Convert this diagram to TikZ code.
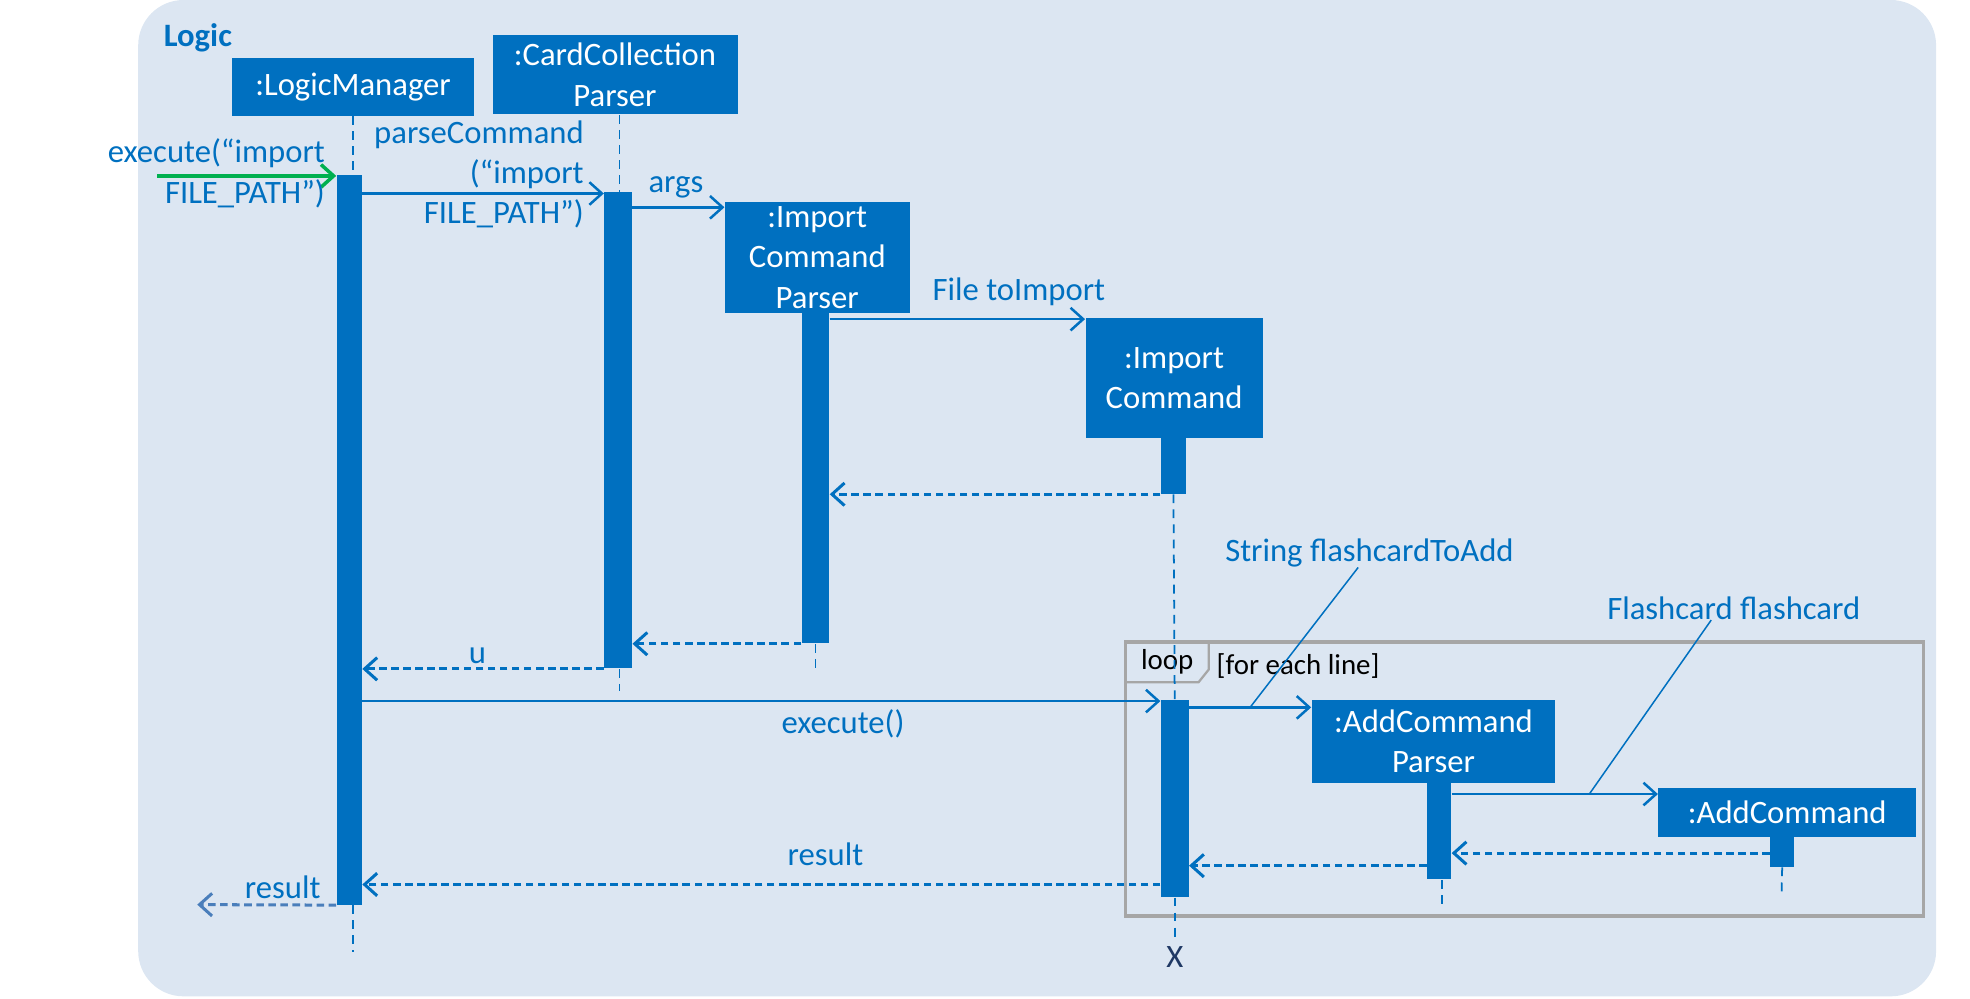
\documentclass[tikz,border=0pt]{standalone}
\usepackage{fontspec}
\setmainfont{Carlito}
\usetikzlibrary{arrows.meta,calc}
\definecolor{bgc}{HTML}{DCE6F2}
\definecolor{ublue}{HTML}{0070C0}
\definecolor{ugreen}{HTML}{00B050}
\definecolor{fgray}{HTML}{A6A6A6}
\definecolor{xnavy}{HTML}{1F3864}
\definecolor{lostc}{HTML}{4A7EBB}
\begin{document}
\begin{tikzpicture}[x=0.5pt,y=-0.5pt,
  font=\fontsize{13}{16}\selectfont,
  hdr/.style={fill=ublue, text=white, inner sep=0pt, align=center},
  actbar/.style={fill=ublue, inner sep=0pt},
  life/.style={draw=ublue, line width=0.7pt, dash pattern=on 3.5pt off 2.5pt},
  msg/.style={draw=ublue, line width=1pt, -{Straight Barb[length=5pt,width=9pt]}},
  ret/.style={msg, line width=1.2pt, dash pattern=on 3pt off 1.8pt},
  lbl/.style={text=ublue, inner sep=0pt},
  leader/.style={draw=ublue, line width=0.6pt}]
\useasboundingbox (0,0) rectangle (1568,794.4);
\fill[bgc, rounded corners=18pt] (110,0) rectangle (1541,793);

% loop frame
\draw[fgray, line width=1.4pt] (896,511) rectangle (1531,729);
\draw[fgray, line width=0.9pt] (896,543) -- (954,543) -- (962,533) -- (962,511);
\node[inner sep=0pt, font=\fontsize{11.5}{14}\selectfont] (looplbl) at (929,527) {loop};
\node[inner sep=0pt, anchor=west, font=\fontsize{11.5}{14}\selectfont] (guard) at (968,530) {[for each line]};

% headers
\node[hdr, minimum width=96pt, minimum height=23pt] (lmH) at (281,69) {:LogicManager};
\node[hdr, minimum width=97.5pt, minimum height=31.5pt] (ccH) at (489.5,59.5) {:CardCollection\\Parser};
\node[hdr, minimum width=73.5pt, minimum height=44pt] (icpH) at (650.5,205) {:Import\\Command\\Parser};
\node[hdr, minimum width=70.5pt, minimum height=48pt] (icH) at (934.5,301) {:Import\\Command};
\node[hdr, minimum width=97pt, minimum height=33pt] (acpH) at (1141,590) {:AddCommand\\Parser};
\node[hdr, minimum width=102.5pt, minimum height=19.5pt] (acH) at (1422.5,646.5) {:AddCommand};

% activation bars (nodes)
\node[actbar, minimum width=10pt, minimum height=290.5pt] (lmA) at (278,429.5) {};
\node[actbar, minimum width=11pt, minimum height=189.5pt] (ccA) at (492,342.5) {};
\node[actbar, minimum width=11pt, minimum height=131.5pt] (icpA) at (649,380.5) {};
\node[actbar, minimum width=10pt, minimum height=22pt] (icA) at (934,371) {};
\node[actbar, minimum width=11pt, minimum height=78.5pt] (icB) at (935,635.5) {};
\node[actbar, minimum width=9.5pt, minimum height=38.5pt] (acpA) at (1145.5,661.5) {};
\node[actbar, minimum width=9.5pt, minimum height=12pt] (acA) at (1418.5,678) {};

% lifelines
\coordinate (lmEnd) at (281,758);
\coordinate (ccEnd) at (493,550);
\coordinate (icpEnd) at (649,532);
\coordinate (icEnd) at (935,750);
\coordinate (acpEnd) at (1148,720);
\coordinate (acEnd) at (1418,713);
\draw[life] (lmH.south -| lmEnd) -- (lmA.north -| lmEnd);
\draw[life] (lmA.south -| lmEnd) -- (lmEnd);
\draw[life] (ccH.south -| ccEnd) -- (ccA.north -| ccEnd);
\draw[life] (ccA.south -| ccEnd) -- (ccEnd);
\draw[life] (icpA.south) -- (icpEnd);
\draw[life] (icA.south) -- (icB.north);
\draw[life] (icB.south) -- (icEnd);
\draw[life] (acpA.south -| acpEnd) -- (acpEnd);
\draw[life] (acA.south) -- (acEnd);
\node[inner sep=0pt, text=xnavy] (xmark) at (935,762) {X};

% title
\node[lbl, anchor=west, font=\fontsize{13}{16}\selectfont\bfseries] (title) at (130,30) {Logic};

% found message
\coordinate (found) at (125,140);
\draw[draw=ugreen, line width=1.4pt, -{Straight Barb[length=5pt,width=9pt]}] (found) -- (found -| lmA.west);
\node[lbl, anchor=east] (l1a) at (259,122) {execute(“import};
\node[lbl, anchor=east] (l1b) at (259,154) {FILE\_PATH”)};

% parseCommand
\draw[msg] (lmA.east |- 0,154) -- (ccA.west |- 0,154);
\node[lbl, anchor=east] (l2a) at (465,107) {parseCommand};
\node[lbl, anchor=east] (l2b) at (465,139) {(“import};
\node[lbl, anchor=east] (l2c) at (465,170) {FILE\_PATH”)};

% args
\draw[msg] (ccA.east |- 0,165) -- (icpH.west |- 0,165);
\node[lbl] (l3) at (538,149) {args};

% File toImport
\draw[msg] (icpA.east |- 0,254) -- (icH.west |- 0,254);
\node[lbl] (l4) at (811,232) {File toImport};

% returns
\draw[ret] (icA.south west) -- (icpA.east |- icA.south west);
\draw[ret] (icpA.south west) -- (ccA.east |- icpA.south west);
\draw[ret] (ccA.south west) -- (lmA.east |- ccA.south west);
\node[lbl] (l5) at (380,522) {u};

% execute()
\draw[msg] (lmA.east |- 0,558) -- (icB.west |- 0,558);
\node[lbl] (l6) at (671,576) {execute()};

% String flashcardToAdd
\draw[msg] (icB.east |- 0,563) -- (acpH.west |- 0,563);
\node[lbl] (sfl) at (1090,440) {String flashcardToAdd};
\coordinate (sflpt) at (995,563);
\draw[leader] (sfl.south -| 1081,0) -- (sflpt);

% Flashcard flashcard
\draw[msg] (acpA.east |- 0,632) -- (acH.west |- 0,632);
\node[lbl] (ffl) at (1380,484) {Flashcard flashcard};
\coordinate (ffpt) at (1265,632);
\draw[leader] (ffl.south -| 1362,0) -- (ffpt);

% inner returns
\draw[ret] (acA.west |- 0,679) -- (acpA.east |- 0,679);
\draw[ret] (acpA.west |- 0,689) -- (icB.east |- 0,689);

% result
\draw[ret] (icB.west |- 0,704) -- (lmA.east |- 0,704);
\node[lbl] (l7) at (657,680) {result};

% lost message
\coordinate (lost) at (157,720);
\draw[ret, draw=lostc] (lmA.south west) -- (lost);
\node[lbl] (l8) at (225,706) {result};
\end{tikzpicture}
\end{document}
